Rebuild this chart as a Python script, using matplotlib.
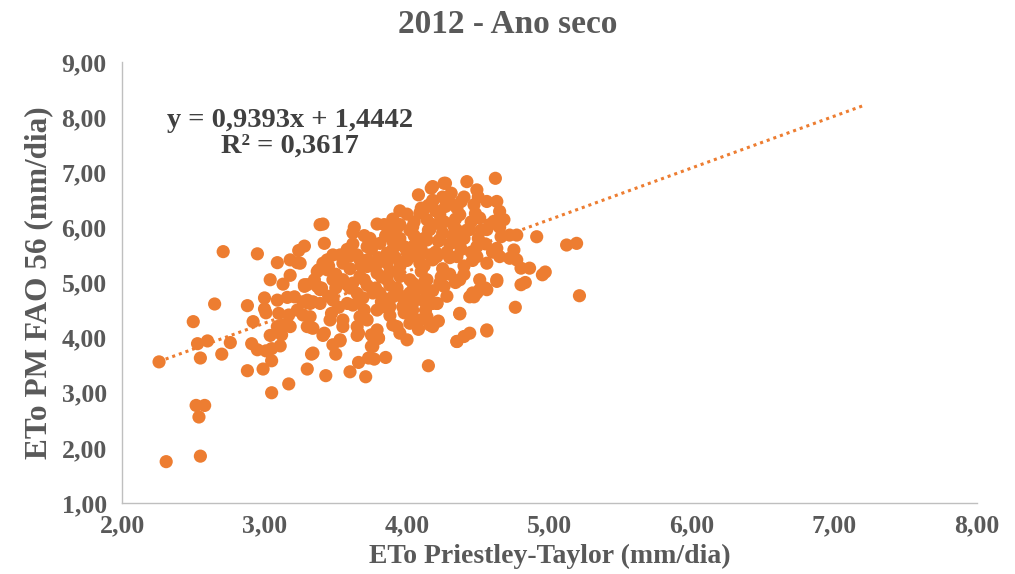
import numpy as np
import matplotlib
matplotlib.use("Agg")
import matplotlib.pyplot as plt
from matplotlib.ticker import FuncFormatter, MultipleLocator

# ETo Priestley-Taylor (x) vs ETo PM FAO 56 (y), mm/dia, 2012
eto_pt = [
    2.26, 2.31, 2.55, 2.52, 2.58, 2.54, 2.50, 2.53, 2.60, 2.55, 2.65, 2.71, 2.70, 2.76,
    2.88, 2.88, 2.99, 2.92, 2.95, 2.91, 2.95, 3.01, 3.05, 3.05, 3.05, 3.17, 3.11, 3.04,
    3.11, 3.17, 3.00, 3.00, 3.01, 3.09, 3.04, 3.13, 3.18, 3.18, 3.23, 3.24, 3.28, 3.39,
    3.09, 3.16, 3.21, 3.28, 3.33, 3.30, 3.33, 3.37, 3.27, 3.34, 3.43, 3.60, 3.71, 4.15,
    3.34, 3.50, 3.66, 3.73, 3.77, 3.85, 3.76, 3.53, 3.41, 3.65, 3.76, 3.80, 3.95, 4.00,
    4.35, 4.62, 4.42, 4.49, 4.27, 4.18, 4.91, 4.66, 4.72, 4.77, 5.12, 5.19, 4.97, 4.95,
    4.80, 4.83, 5.21, 4.76, 4.37, 4.56, 4.35, 4.40, 4.44, 4.46, 4.51, 4.55, 4.44, 4.63,
    4.80, 4.86, 4.72, 4.77, 4.18, 4.21, 3.41, 3.63, 3.79, 4.08, 4.00, 4.18, 4.27, 3.42,
    3.25, 3.38, 3.44, 3.53, 3.60, 3.74, 3.81, 3.90, 3.95, 4.04, 4.14, 4.23, 3.95, 4.04,
    4.14, 4.21, 3.86, 3.95, 4.09, 3.72, 3.67, 3.28, 3.37, 3.48, 3.58, 3.67, 3.79, 3.86,
    3.95, 4.04, 4.14, 4.23, 3.30, 3.39, 3.48, 3.58, 3.69, 3.81, 3.90, 4.02, 4.11, 4.21,
    3.27, 3.47, 3.55, 3.67, 3.79, 3.88, 4.04, 4.13, 4.16, 3.90, 4.04, 4.09, 3.65, 3.66,
    3.53, 3.42, 3.34, 3.75, 3.80, 3.75, 4.26, 4.17, 4.31, 4.18, 4.28, 4.38, 4.47, 4.56,
    4.63, 4.65, 4.68, 4.11, 4.23, 4.37, 4.51, 4.61, 4.33, 4.44, 4.56, 4.16, 4.23, 4.37,
    4.49, 4.63, 4.75, 4.02, 4.18, 4.35, 4.49, 4.56, 4.65, 4.37, 4.51, 4.63, 4.49, 4.56,
    4.47, 4.26, 4.14, 4.00, 4.04, 4.18, 4.14, 4.02, 4.37, 4.56, 3.74, 3.93, 4.09, 3.44,
    3.55, 3.72, 3.86, 3.30, 3.39, 3.62, 3.76, 3.32, 3.48, 3.62, 3.83, 3.97, 3.30, 3.46,
    3.55, 3.72, 3.79, 3.93, 3.41, 3.10, 3.17, 3.23, 3.32, 3.09, 3.13, 3.18, 3.12, 3.48,
    3.85, 3.90, 3.95, 4.00, 4.05, 4.10, 4.15, 4.20, 4.25, 4.30, 4.35, 4.40, 4.30, 4.25,
    4.10, 4.00, 3.88, 3.80, 3.75, 3.70, 3.78, 3.85, 3.93, 4.08, 4.12, 4.30, 4.40, 4.45,
    4.50, 4.55, 4.45, 4.35, 4.25, 4.40, 3.60, 3.55, 3.65, 3.50, 3.45, 3.62, 3.70, 3.95,
    4.05, 4.15, 3.45, 3.50, 3.55, 3.58, 3.65, 3.68, 3.72, 3.78, 3.82, 3.85, 3.90, 3.92,
    3.98, 4.02, 4.06, 4.08, 4.12, 4.16, 4.18, 4.22, 4.26, 4.28, 4.32, 4.34, 4.38, 4.42,
    4.46, 4.48, 4.52, 4.58, 4.60, 4.65, 3.60, 3.66, 3.72, 3.82, 3.88, 3.96, 4.02, 4.06,
    4.12, 4.18, 4.24, 4.28, 4.34, 4.40, 3.52, 3.40, 3.35, 3.48, 3.70, 3.88, 3.98, 4.08,
    4.22, 3.62, 3.84, 3.90, 4.10, 4.20, 4.30, 4.50,
]
eto_fao = [
    3.56, 1.75, 1.85, 2.77, 2.77, 2.56, 4.29, 3.89, 3.94, 3.63, 4.61, 5.56, 3.70, 3.91,
    4.58, 3.40, 3.43, 4.29, 5.52, 3.89, 3.78, 3.76, 3.80, 3.58, 3.00, 3.16, 3.85, 4.04,
    4.16, 4.22, 4.72, 4.52, 4.45, 5.36, 5.05, 4.97, 5.13, 5.41, 5.36, 5.58, 5.66, 6.05,
    4.68, 4.73, 4.74, 4.93, 4.18, 3.43, 3.70, 5.20, 4.65, 4.65, 3.31, 3.38, 3.29, 3.49,
    3.72, 3.70, 3.55, 3.63, 3.61, 3.64, 3.84, 3.94, 4.04, 4.04, 4.02, 3.99, 4.08, 3.96,
    3.93, 6.89, 6.83, 6.68, 6.80, 6.74, 5.83, 5.83, 5.86, 5.86, 5.68, 5.71, 5.19, 5.14,
    4.96, 5.00, 4.76, 4.55, 4.43, 4.12, 3.93, 4.02, 4.08, 4.81, 4.87, 4.90, 4.74, 5.05,
    5.26, 5.26, 5.44, 5.41, 4.20, 4.62, 6.06, 6.00, 6.06, 6.59, 6.24, 6.47, 6.38, 5.71,
    5.35, 5.23, 5.41, 5.50, 5.48, 5.77, 5.71, 5.95, 6.05, 6.01, 6.14, 6.07, 5.71, 5.65,
    5.77, 5.47, 5.35, 5.29, 5.35, 5.29, 5.41, 4.96, 4.93, 5.05, 4.96, 5.11, 5.17, 5.05,
    5.11, 4.99, 5.05, 4.99, 4.68, 4.62, 4.72, 4.62, 4.72, 4.81, 4.74, 4.81, 4.68, 4.62,
    4.41, 4.44, 4.32, 4.38, 4.50, 4.56, 4.50, 4.50, 4.23, 4.23, 4.29, 4.32, 4.20, 4.08,
    3.96, 4.08, 4.17, 4.05, 3.99, 3.84, 6.80, 6.71, 6.62, 6.49, 6.41, 6.47, 6.41, 6.47,
    6.47, 6.29, 6.14, 6.29, 6.23, 6.23, 6.17, 6.11, 6.02, 5.96, 5.96, 5.96, 5.78, 5.68,
    5.65, 5.62, 5.59, 5.47, 5.41, 5.47, 5.47, 5.35, 5.47, 5.05, 5.05, 5.02, 4.81, 4.87,
    4.74, 4.93, 4.81, 4.74, 4.62, 4.62, 4.38, 4.26, 4.44, 4.14, 5.80, 5.99, 6.26, 5.23,
    5.47, 5.41, 5.53, 4.96, 4.87, 4.99, 4.81, 4.62, 4.68, 4.59, 4.56, 4.56, 4.20, 4.32,
    4.20, 4.32, 4.14, 4.20, 5.35, 4.44, 4.41, 4.50, 4.38, 4.20, 4.23, 4.20, 4.05, 3.87,
    5.85, 5.60, 5.80, 5.55, 5.85, 5.60, 5.95, 5.55, 5.90, 5.70, 5.95, 5.80, 5.45, 5.25,
    5.20, 5.40, 5.20, 5.45, 5.60, 5.05, 4.90, 4.70, 4.90, 4.90, 5.30, 5.15, 5.30, 5.55,
    5.80, 5.70, 6.10, 6.35, 6.55, 6.55, 5.25, 5.05, 4.80, 4.90, 4.75, 5.70, 5.85, 6.30,
    6.10, 6.40, 5.30, 5.15, 5.35, 5.60, 5.50, 5.30, 5.65, 5.30, 5.10, 5.40, 5.75, 5.45,
    5.65, 5.95, 5.70, 5.45, 5.80, 5.50, 6.05, 5.75, 6.10, 5.55, 5.85, 6.15, 5.60, 5.95,
    5.40, 6.25, 5.95, 6.05, 5.55, 6.00, 4.90, 4.65, 4.95, 4.65, 4.95, 4.75, 5.05, 4.70,
    5.00, 4.85, 5.10, 4.75, 5.00, 5.15, 4.55, 4.90, 5.05, 5.50, 4.50, 4.40, 4.45, 4.15,
    4.30, 5.90, 6.05, 6.15, 6.35, 6.30, 6.45, 6.55,
]

slope = 0.9393
intercept = 1.4442
r2 = 0.3617

orange = "#ED7D31"
gray_text = "#595959"
serif = ["Liberation Serif", "DejaVu Serif"]

plt.rcParams["font.family"] = serif
plt.rcParams["font.weight"] = "bold"

fig = plt.figure(figsize=(10.15, 5.74), dpi=100)
ax = fig.add_axes([0.1202, 0.1237, 0.8424, 0.7683])

ax.scatter(eto_pt, eto_fao, s=90, color=orange, edgecolors="none", zorder=3)

# linear trend, extended two units beyond the data
x_line = np.array([min(eto_pt), max(eto_pt) + 2.0])
ax.plot(x_line, slope * x_line + intercept, linestyle=(0, (1, 1.3)),
        color=orange, linewidth=2.2, zorder=2)

ax.set_xlim(2, 8)
ax.set_ylim(1, 9)
ax.xaxis.set_major_locator(MultipleLocator(1))
ax.yaxis.set_major_locator(MultipleLocator(1))
fmt = FuncFormatter(lambda v, pos: f"{v:.2f}".replace(".", ","))
ax.xaxis.set_major_formatter(fmt)
ax.yaxis.set_major_formatter(fmt)

for side in ("top", "right"):
    ax.spines[side].set_visible(False)
for side in ("left", "bottom"):
    ax.spines[side].set_color("#bfbfbf")
    ax.spines[side].set_linewidth(1.0)

ax.tick_params(axis="both", length=0, labelsize=18.5, colors=gray_text)
ax.tick_params(axis="x", pad=8)
ax.tick_params(axis="y", pad=11)
for lab in ax.get_xticklabels() + ax.get_yticklabels():
    lab.set_fontweight("bold")

ax.set_xlabel("ETo Priestley-Taylor (mm/dia)", fontsize=20, fontweight="bold",
              color=gray_text, labelpad=5)
ax.set_ylabel("ETo PM FAO 56 (mm/dia)", fontsize=22.5, fontweight="bold",
              color=gray_text, labelpad=6)
fig.suptitle("2012 - Ano seco", x=0.5, y=0.985, fontsize=24, fontweight="bold",
             color=gray_text)

ax.text(3.18, 7.94, f"y = {slope:.4f}x + {intercept:.4f}".replace(".", ","),
        fontsize=20.5, fontweight="bold", color="#404040", ha="center", va="center")
ax.text(3.18, 7.48, f"R² = {r2:.4f}".replace(".", ","),
        fontsize=20.5, fontweight="bold", color="#404040", ha="center", va="center")

fig.savefig("out.png", dpi=100)
